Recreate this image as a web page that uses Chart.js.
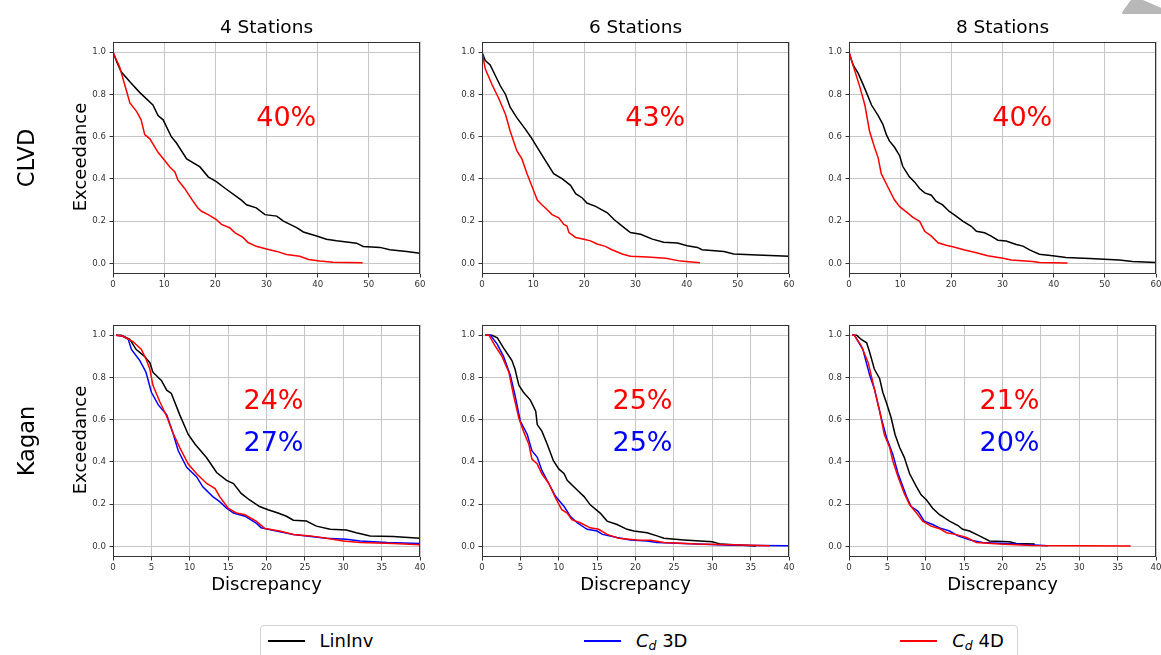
<!DOCTYPE html>
<html>
<head>
<meta charset="utf-8">
<script src="https://cdn.jsdelivr.net/npm/chart.js@4.4.1/dist/chart.umd.min.js"></script>
<style>
  html, body { margin: 0; padding: 0; background: #fff; overflow: hidden; }
  body { width: 1161px; height: 655px; position: relative; font-family: "DejaVu Sans", sans-serif; color: #000; }
  canvas { position: absolute; }
  .lbl { position: absolute; white-space: nowrap; line-height: 1; }
  .rot { transform: translate(-50%, -50%) rotate(-90deg); }
  .ctr { transform: translateX(-50%); }
  #legend { position: absolute; left: 260px; top: 625px; width: 756px; height: 45px;
            border: 1px solid #d4d4d4; border-radius: 4px; background: #fff; }
  .lg-line { position: absolute; width: 37px; height: 1.6px; }
  .lg-text { position: absolute; font-size: 18px; line-height: 1; white-space: nowrap; }
  .lg-text sub { font-size: 12.5px; vertical-align: -3px; line-height: 0; }
  #corner { position: absolute; left: 1118px; top: 0; width: 43px; height: 14px; background: #b8b8b8;
            clip-path: polygon(10% 85%, 30% 0%, 58% 0%, 100% 55%, 100% 100%, 10% 100%); }
</style>
</head>
<body>
<div id="corner"></div>
<div id="legend"></div>
<script>
// ------------------------------------------------------------
// DATA
// ------------------------------------------------------------
const stationTitles = ["4 Stations", "6 Stations", "8 Stations"];
const rowNames = ["CLVD", "Kagan"];
const yTicks = [0, 0.2, 0.4, 0.6, 0.8, 1.0];
const clvdXTicks = [0, 10, 20, 30, 40, 50, 60];
const kaganXTicks = [0, 5, 10, 15, 20, 25, 30, 35, 40];
const clvdPct4D = ["40%", "43%", "40%"];
const kaganPct4D = ["24%", "25%", "21%"];
const kaganPct3D = ["27%", "25%", "20%"];
const seriesNames = ["LinInv", "<i>C</i><sub><i>d</i></sub> 3D", "<i>C</i><sub><i>d</i></sub> 4D"];
const seriesColors = ["#000000", "#0000ff", "#ff0000"];

// CLVD, 4 stations
const clvd4LinInv = [[0,1],[0.8,0.95],[1.6,0.907],[3.3,0.86],[5.2,0.81],[7.8,0.75],[8.8,0.70],[9.8,0.68],[11.4,0.60],[12.4,0.57],[14.4,0.495],[17,0.457],[18.6,0.41],[20.2,0.387],[21.9,0.356],[25.1,0.30],[26.1,0.278],[28,0.263],[29.7,0.231],[32,0.224],[33.3,0.20],[35.9,0.17],[37.2,0.149],[39.8,0.13],[41.7,0.115],[43.7,0.107],[47.6,0.096],[48.9,0.08],[52.2,0.076],[54.1,0.065],[57.4,0.057],[60,0.048]];
const clvd4Cd4D = [[0,1],[1.3,0.93],[2.6,0.82],[3.3,0.76],[4.6,0.72],[5.5,0.68],[6.2,0.61],[7.2,0.59],[8.8,0.526],[10.1,0.487],[11.1,0.457],[12.1,0.433],[12.7,0.394],[14,0.355],[15.7,0.293],[16.6,0.262],[17.3,0.247],[18.6,0.231],[20.2,0.208],[21.2,0.185],[22.8,0.169],[23.8,0.146],[25.4,0.123],[26.4,0.099],[28,0.081],[30,0.068],[32,0.057],[33.9,0.042],[36.5,0.034],[38.2,0.019],[40.4,0.011],[43,0.006],[48.8,0.003]];
// CLVD, 6 stations
const clvd6LinInv = [[0,1],[0.65,0.96],[1.6,0.94],[2.6,0.89],[3.6,0.84],[4.6,0.80],[5.5,0.74],[6.8,0.69],[8.5,0.635],[9.5,0.60],[10.4,0.565],[11.4,0.526],[12.4,0.487],[14,0.425],[15.7,0.40],[17.3,0.37],[18.3,0.33],[19.6,0.31],[20.5,0.286],[22.2,0.27],[24.5,0.24],[25.8,0.208],[27.4,0.177],[29,0.146],[31,0.138],[33.3,0.115],[35.5,0.10],[38.2,0.097],[40.1,0.084],[42.1,0.076],[43,0.065],[47.3,0.057],[49.2,0.045],[53.8,0.04],[60,0.034]];
const clvd6Cd4D = [[0,1],[0.65,0.92],[2,0.845],[3.3,0.78],[4.6,0.705],[5.5,0.627],[6.8,0.534],[7.8,0.495],[8.8,0.425],[9.8,0.363],[10.8,0.30],[11.7,0.278],[12.7,0.255],[13.7,0.231],[15,0.216],[16,0.185],[16.6,0.177],[17,0.146],[18.3,0.123],[19.9,0.115],[21.2,0.107],[22.5,0.092],[24.1,0.081],[25.4,0.065],[27.4,0.045],[29,0.034],[32.3,0.031],[35.9,0.025],[38.8,0.011],[42.6,0.003]];
// CLVD, 8 stations
const clvd8LinInv = [[0,1],[0.8,0.94],[1.8,0.90],[2.7,0.85],[3.4,0.81],[4.4,0.75],[5.7,0.70],[6.6,0.66],[7.3,0.61],[7.9,0.58],[8.9,0.55],[9.9,0.51],[10.5,0.46],[11.8,0.41],[12.8,0.386],[13.8,0.355],[14.8,0.334],[16.1,0.323],[17,0.295],[18.3,0.277],[19.6,0.246],[20.6,0.23],[22.3,0.199],[23.9,0.176],[24.9,0.152],[26.5,0.145],[27.8,0.129],[29.1,0.11],[30.7,0.106],[32.7,0.09],[34,0.082],[35.3,0.064],[37.2,0.044],[39.8,0.036],[42.4,0.028],[47,0.023],[52.8,0.016],[55.4,0.009],[60,0.005]];
const clvd8Cd4D = [[0,1],[1.1,0.915],[2.1,0.837],[3.1,0.75],[4.0,0.627],[5.0,0.549],[5.7,0.50],[6.3,0.425],[7.6,0.362],[8.9,0.30],[9.9,0.269],[11.5,0.238],[12.5,0.218],[13.8,0.199],[14.8,0.152],[16.1,0.129],[17.4,0.098],[19,0.086],[20.3,0.079],[22.6,0.064],[24.9,0.051],[27.1,0.036],[30.1,0.025],[31.7,0.016],[35.9,0.009],[37.2,0.005],[42.7,0.002]];
// Kagan, 4 stations
const kagan4LinInv = [[0.4,1],[1.1,1],[2.2,0.98],[3.0,0.933],[4.1,0.90],[4.8,0.87],[5.2,0.825],[6.3,0.786],[7.0,0.74],[7.6,0.724],[8.7,0.623],[9.8,0.53],[10.7,0.484],[12.2,0.42],[13.5,0.35],[14.8,0.313],[15.7,0.298],[16.7,0.251],[17.8,0.22],[19.1,0.189],[20.2,0.174],[21.5,0.158],[22.6,0.143],[23.5,0.124],[25.2,0.12],[26.5,0.096],[28.3,0.081],[30.4,0.078],[31.7,0.065],[33.5,0.05],[36.5,0.047],[40,0.039]];
const kagan4Cd3D = [[0.4,1],[1.3,0.995],[2.0,0.98],[2.4,0.933],[3.5,0.88],[4.3,0.825],[5.0,0.73],[5.9,0.67],[7.0,0.623],[7.8,0.538],[8.5,0.453],[9.6,0.375],[10.9,0.329],[11.7,0.282],[13.0,0.236],[13.9,0.212],[14.8,0.181],[15.7,0.158],[17.2,0.143],[18.7,0.109],[19.3,0.088],[21.3,0.073],[23.5,0.057],[27.8,0.039],[30.4,0.034],[32.2,0.026],[35.7,0.019],[40,0.014]];
const kagan4Cd4D = [[0.4,1],[1.3,0.995],[2.6,0.97],[3.7,0.933],[4.3,0.887],[4.8,0.84],[5.2,0.763],[6.1,0.685],[7.0,0.615],[7.8,0.538],[8.7,0.468],[9.8,0.39],[10.9,0.344],[12.2,0.298],[13.3,0.274],[13.9,0.236],[15,0.181],[16.1,0.158],[17.2,0.15],[18.7,0.119],[19.8,0.085],[21.7,0.073],[23.5,0.057],[25.7,0.05],[27.8,0.039],[30,0.026],[32.2,0.019],[36.5,0.014],[40,0.008]];
// Kagan, 6 stations
const kagan6LinInv = [[0.4,1],[1.3,1],[2.0,0.988],[2.8,0.94],[3.9,0.88],[4.3,0.84],[4.8,0.763],[5.4,0.73],[6.3,0.693],[7.0,0.64],[7.2,0.577],[7.8,0.546],[8.5,0.484],[9.3,0.406],[10,0.367],[10.7,0.344],[11.1,0.313],[12.4,0.267],[13.3,0.236],[14.1,0.197],[15.4,0.158],[16.3,0.12],[17.6,0.104],[18.9,0.081],[19.8,0.073],[21.5,0.065],[22.8,0.05],[23.7,0.039],[26.3,0.031],[30,0.022],[31.1,0.011],[34.6,0.004],[35.7,0.002]];
const kagan6Cd3D = [[0.4,1],[1.1,1],[2.0,0.957],[2.8,0.90],[3.7,0.81],[4.3,0.716],[5.0,0.592],[5.9,0.53],[6.5,0.453],[7.2,0.422],[7.8,0.36],[8.7,0.298],[9.6,0.236],[10.7,0.189],[11.5,0.143],[12.4,0.112],[13.7,0.081],[15,0.073],[15.7,0.057],[17.6,0.042],[19.3,0.031],[21.5,0.026],[22.8,0.019],[28,0.011],[32.4,0.006],[40,0.003]];
const kagan6Cd4D = [[0.4,1],[0.9,1],[1.7,0.95],[2.6,0.90],[3.5,0.825],[4.1,0.716],[4.8,0.608],[5.4,0.546],[6.1,0.484],[6.5,0.414],[7.2,0.39],[7.8,0.344],[8.7,0.298],[9.6,0.228],[10.4,0.174],[11.1,0.158],[11.7,0.127],[12.8,0.112],[14.1,0.088],[15.2,0.081],[16.3,0.057],[17.8,0.039],[20.2,0.031],[22,0.029],[23.7,0.019],[28,0.011],[32.4,0.008],[37.4,0.003]];
// Kagan, 8 stations
const kagan8LinInv = [[0.4,1],[1.0,1],[1.6,0.98],[2.3,0.964],[2.7,0.918],[3.3,0.84],[4.0,0.794],[4.4,0.73],[4.9,0.678],[5.5,0.608],[6.0,0.53],[6.6,0.468],[7.2,0.422],[7.9,0.344],[8.8,0.282],[9.4,0.244],[10.1,0.22],[10.9,0.181],[11.8,0.15],[13.1,0.12],[14.2,0.099],[14.8,0.081],[15.7,0.073],[17,0.05],[18.3,0.026],[20.9,0.022],[21.8,0.014],[24.2,0.011]];
const kagan8Cd3D = [[0.4,1],[0.7,1],[1.8,0.933],[2.7,0.81],[3.3,0.747],[4.2,0.608],[4.9,0.515],[5.7,0.437],[6.4,0.344],[7.5,0.236],[8.1,0.189],[9.0,0.166],[9.8,0.12],[10.9,0.104],[11.8,0.088],[13.1,0.073],[14.2,0.05],[15.7,0.031],[17.4,0.019],[21.8,0.011],[25.9,0.003]];
const kagan8Cd4D = [[0.4,1],[0.7,1],[1.6,0.95],[2.5,0.87],[3.1,0.778],[4.0,0.64],[4.6,0.53],[5.3,0.468],[5.7,0.406],[6.4,0.329],[7.2,0.251],[7.9,0.197],[8.8,0.158],[9.6,0.12],[10.7,0.096],[11.8,0.084],[12.7,0.065],[14,0.056],[15.3,0.042],[16.6,0.019],[19.6,0.011],[23.9,0.004],[36.7,0.002]];

// ------------------------------------------------------------
// LAYOUT
// ------------------------------------------------------------
const colLeft = [113, 482, 849];
const rowTop = [39, 322];
const plotW = 307, plotH = 235;
const padL = 40, padT = 6, padR = 8, padB = 24;

const panels = [
  { row: 0, col: 0, xMax: 60, xTicks: clvdXTicks, lines: [clvd4LinInv, null, clvd4Cd4D], notes: [clvdPct4D[0], null] },
  { row: 0, col: 1, xMax: 60, xTicks: clvdXTicks, lines: [clvd6LinInv, null, clvd6Cd4D], notes: [clvdPct4D[1], null] },
  { row: 0, col: 2, xMax: 60, xTicks: clvdXTicks, lines: [clvd8LinInv, null, clvd8Cd4D], notes: [clvdPct4D[2], null] },
  { row: 1, col: 0, xMax: 40, xTicks: kaganXTicks, lines: [kagan4LinInv, kagan4Cd3D, kagan4Cd4D], notes: [kaganPct4D[0], kaganPct3D[0]] },
  { row: 1, col: 1, xMax: 40, xTicks: kaganXTicks, lines: [kagan6LinInv, kagan6Cd3D, kagan6Cd4D], notes: [kaganPct4D[1], kaganPct3D[1]] },
  { row: 1, col: 2, xMax: 40, xTicks: kaganXTicks, lines: [kagan8LinInv, kagan8Cd3D, kagan8Cd4D], notes: [kaganPct4D[2], kaganPct3D[2]] },
];

// matplotlib-like box around the axes
const framePlugin = {
  id: "frame",
  afterDraw(chart) {
    const a = chart.chartArea, ctx = chart.ctx;
    ctx.save();
    ctx.strokeStyle = "#333";
    ctx.lineWidth = 1;
    ctx.strokeRect(Math.round(a.left) + 0.5, Math.round(a.top) + 0.5,
                   Math.round(a.right - a.left) - 1, Math.round(a.bottom - a.top) - 1);
    ctx.restore();
  },
};

// percentage labels anchored in data coordinates
const notesPlugin = {
  id: "pctNotes",
  afterDatasetsDraw(chart, args, opts) {
    const ctx = chart.ctx, xs = chart.scales.x, ys = chart.scales.y;
    ctx.save();
    ctx.font = '27px "DejaVu Sans"';
    ctx.textAlign = "left";
    ctx.textBaseline = "alphabetic";
    (opts.items || []).forEach((n) => {
      ctx.fillStyle = n.color;
      ctx.fillText(n.text, xs.getPixelForValue(n.x), ys.getPixelForValue(n.y));
    });
    ctx.restore();
  },
};

function addLabel(html, cls, style) {
  const d = document.createElement("div");
  d.className = "lbl " + cls;
  d.innerHTML = html;
  Object.assign(d.style, style);
  document.body.appendChild(d);
  return d;
}

panels.forEach((p) => {
  const left = colLeft[p.col], top = rowTop[p.row];
  const canvas = document.createElement("canvas");
  canvas.width = padL + plotW + padR;
  canvas.height = padT + plotH + padB;
  canvas.style.left = left - padL + "px";
  canvas.style.top = top - padT + "px";
  document.body.appendChild(canvas);

  const datasets = [];
  p.lines.forEach((pts, i) => {
    if (!pts) return;
    datasets.push({
      label: seriesNames[i],
      data: pts.map(([x, y]) => ({ x, y })),
      borderColor: seriesColors[i],
      borderWidth: 1.5,
      pointRadius: 0,
      tension: 0,
      fill: false,
      order: 3 - i,
    });
  });

  const xAnchor = p.row === 0 ? 28 : 17;
  const items = [];
  if (p.notes[0]) items.push({ text: p.notes[0], x: xAnchor, y: 0.65, color: seriesColors[2] });
  if (p.notes[1]) items.push({ text: p.notes[1], x: xAnchor, y: 0.45, color: seriesColors[1] });

  const tickFont = { family: "DejaVu Sans", size: 8.6 };
  new Chart(canvas.getContext("2d"), {
    type: "line",
    data: { datasets },
    options: {
      responsive: false,
      animation: false,
      devicePixelRatio: 1,
      layout: { padding: { top: padT, right: padR, left: 0, bottom: 0 } },
      plugins: { legend: { display: false }, tooltip: { enabled: false }, pctNotes: { items } },
      scales: {
        x: {
          type: "linear",
          min: 0,
          max: p.xMax,
          afterFit: (s) => { s.height = padB; },
          afterBuildTicks: (s) => { s.ticks = p.xTicks.map((v) => ({ value: v })); },
          ticks: { font: tickFont, color: "#333", padding: 2, maxRotation: 0, callback: (v) => String(v) },
          grid: { color: "#c6c6c6", lineWidth: 1, tickLength: 3.5, tickColor: "#333" },
          border: { display: false },
        },
        y: {
          type: "linear",
          min: -0.05,
          max: 1.05,
          afterFit: (s) => { s.width = padL; },
          afterBuildTicks: (s) => { s.ticks = yTicks.map((v) => ({ value: v })); },
          ticks: { font: tickFont, color: "#333", padding: 3.5, callback: (v) => Number(v).toFixed(1) },
          grid: { color: "#c6c6c6", lineWidth: 1, tickLength: 3.5, tickColor: "#333" },
          border: { display: false },
        },
      },
    },
    plugins: [framePlugin, notesPlugin],
  });

  const cx = left + plotW / 2, cy = top + plotH / 2;
  if (p.row === 0) {
    addLabel(stationTitles[p.col], "ctr", { left: cx + "px", top: 34 - 0.846 * 18.5 + "px", fontSize: "18.5px" });
  }
  if (p.row === 1) {
    addLabel("Discrepancy", "ctr", { left: cx + "px", top: 590.5 - 0.846 * 18 + "px", fontSize: "18px" });
  }
  if (p.col === 0) {
    addLabel("Exceedance", "rot", { left: "80.3px", top: cy + "px", fontSize: "18px" });
    addLabel(rowNames[p.row], "rot", { left: "25.7px", top: cy + 1.5 + "px", fontSize: "22.5px" });
  }
});

// legend
const legend = document.getElementById("legend");
seriesNames.forEach((name, i) => {
  const x0 = 6.6 + i * 316.3;
  const line = document.createElement("div");
  line.className = "lg-line";
  line.style.left = x0 + "px";
  line.style.top = "14.2px";
  line.style.backgroundColor = seriesColors[i];
  legend.appendChild(line);
  const t = document.createElement("div");
  t.className = "lg-text";
  t.innerHTML = name;
  t.style.left = x0 + 52 + "px";
  t.style.top = 647.3 - 0.846 * 18 - 626 + "px";
  legend.appendChild(t);
});
</script>
</body>
</html>
